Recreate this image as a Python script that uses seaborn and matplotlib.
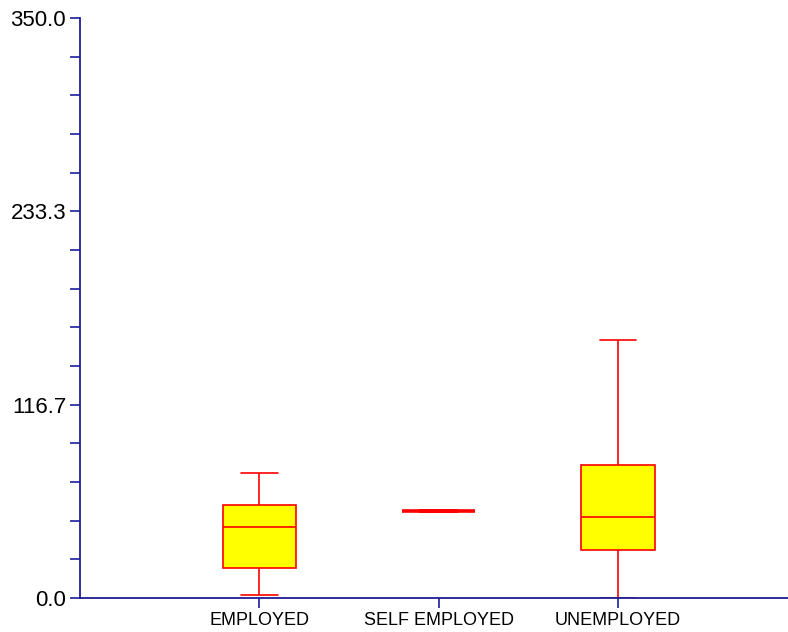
import numpy as np
import pandas as pd
import matplotlib
matplotlib.use("Agg")
import matplotlib.pyplot as plt
import seaborn as sns
from matplotlib.ticker import FixedLocator, FormatStrFormatter

# Employment status groups
categories = ["EMPLOYED", "SELF EMPLOYED", "UNEMPLOYED"]

# Five-number summaries per group: minimum, lower quartile, median, upper quartile, maximum
mins    = [1.8, 52.3, 0.0]
q1s     = [18.1, 52.3, 28.8]
medians = [42.8, 52.3, 48.7]
q3s     = [56.4, 52.3, 80.3]
maxs    = [75.3, 52.3, 155.9]

y_max = 350.0

# Long-form table: five observations per group reproduce the summary exactly
rows = []
for cat, a, b, c, d, e in zip(categories, mins, q1s, medians, q3s, maxs):
    for v in (a, b, c, d, e):
        rows.append({"status": cat, "value": v})
df = pd.DataFrame(rows)

sns.set_theme(style="white")
plt.rcParams["font.family"] = ["Liberation Sans", "DejaVu Sans"]

navy = "#1c1c9c"
red = "#ff0000"

fig = plt.figure(figsize=(7.88, 6.32), dpi=100)
ax = fig.add_axes([80 / 788, 34 / 632, 710 / 788, 580 / 632])

sns.boxplot(
    data=df, x="status", y="value", order=categories, ax=ax,
    whis=(0, 100), width=0.41,
    boxprops=dict(facecolor="#ffff00", edgecolor=red, linewidth=1.2),
    medianprops=dict(color=red, linewidth=1.2),
    whiskerprops=dict(color=red, linewidth=1.2),
    capprops=dict(color=red, linewidth=1.2),
    showfliers=False,
)

# Groups with no spread collapse to a single bold line
for cat_idx, (lo, hi) in enumerate(zip(mins, maxs)):
    if lo == hi:
        for ln in ax.lines:
            xd = np.asarray(ln.get_xdata(), dtype=float)
            yd = np.asarray(ln.get_ydata(), dtype=float)
            if len(xd) and abs(xd.mean() - cat_idx) < 0.3 and np.allclose(yd, lo):
                ln.set_linewidth(2.6)

ax.set_xlim(-1.0, 2.96)
ax.set_ylim(0, y_max)

ax.yaxis.set_major_locator(FixedLocator([0, y_max / 3, 2 * y_max / 3, y_max]))
ax.yaxis.set_major_formatter(FormatStrFormatter("%.1f"))
ax.yaxis.set_minor_locator(FixedLocator(np.arange(0, y_max + 0.01, y_max / 15)))

ax.set_xlabel("")
ax.set_ylabel("")

for side in ("top", "right"):
    ax.spines[side].set_visible(False)
for side in ("left", "bottom"):
    ax.spines[side].set_color(navy)
    ax.spines[side].set_linewidth(1.3)

ax.tick_params(axis="y", which="both", direction="out", length=7, width=1.2,
               color=navy, left=True, labelsize=16, labelcolor="black", pad=3)
ax.tick_params(axis="x", which="both", direction="out", length=7, width=1.2,
               color=navy, bottom=True, labelsize=13, labelcolor="black", pad=3)
ax.grid(False)

fig.savefig("out.png", dpi=100)
